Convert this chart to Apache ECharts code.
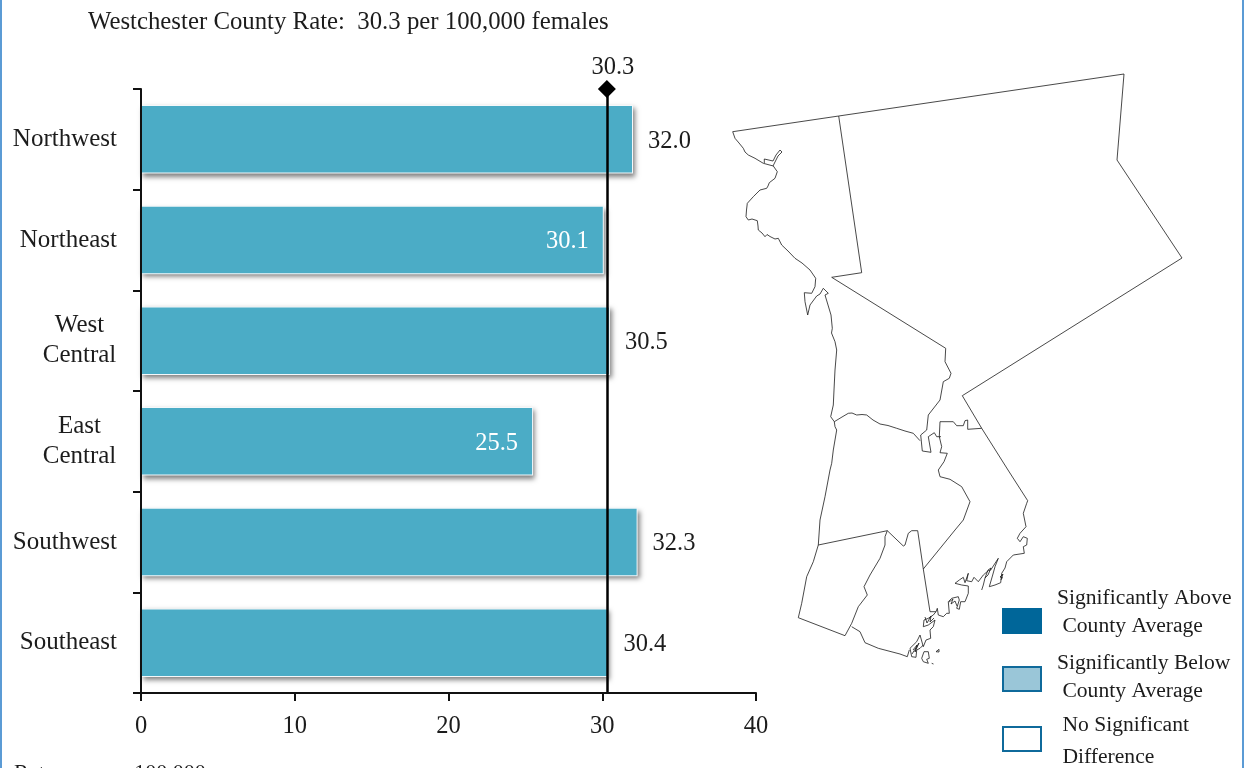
<!DOCTYPE html>
<html>
<head>
<meta charset="utf-8">
<style>html,body{margin:0;padding:0;background:#fff}#c{width:1244px;height:768px}</style>
<script src="https://cdn.jsdelivr.net/npm/echarts@6/dist/echarts.min.js"></script>
</head>
<body>
<div id="c"></div>
<script>
const regions = ['Northwest', 'Northeast', 'West\nCentral', 'East\nCentral', 'Southwest', 'Southeast'];
const rates = [32.0, 30.1, 30.5, 25.5, 32.3, 30.4];
const labelInside = [false, true, false, true, false, false];
const countyRate = 30.3;
const xTicks = [0, 10, 20, 30, 40];
const titleText = 'Westchester County Rate:  30.3 per 100,000 females';
const footText = 'Rates are per 100,000';
const legendLabels = [['Significantly Above', ' County Average'], ['Significantly Below', ' County Average'], [' No Significant', ' Difference']];
const legendFills = ['#006699', '#9AC6D8', '#ffffff'];

// map outlines
const lineNorthTop = [[732.7,131.7],[838.7,116],[1124,74],[1117,160],[1182,258],[962.3,395.7],[981.7,428.3],[1008,470],[1027.7,500.7]];
const lineNwEast = [[838.7,116],[861.7,272.7],[831.7,277.3],[945.7,348.3]];
const lineHudsonNorth = [[732.7,131.7],[735,138.3],[739,143],[743.3,148.3],[745,152],[748.3,155],[755,158.3],[763.3,163.3],[773.3,166],[777.3,171.7],[775,178.3],[769.3,182.7],[768,186],[766.7,188.3],[760,190],[753.3,196.7],[747.3,203.3],[746.5,210],[746,216.7],[748.3,220],[752,219],[757.3,220.7],[758,226],[758.3,230],[762,233],[765,236.7],[767,234.5],[770,236.5],[773,238],[775,239],[778.3,238.3],[781.7,245],[788,251],[795,258.3],[802,263],[810,270],[815.7,278.3],[815,286.7],[811.7,293.3],[804.3,292.7],[805,301.7],[807.7,315],[810,305],[816.7,296],[820,294],[823.3,288.3],[828.3,293.3],[825,295],[828,305],[831,315],[832.3,328.3],[831.5,333],[835,341.7],[836.7,350],[835,370],[834,390],[833.3,405],[830.7,416.7],[834.3,421.7],[835,426.7],[836.7,430],[833.3,450],[831.7,463.3],[830,470],[825,496.7],[820,520],[818.3,545],[813.3,561.7],[806.7,576.7],[801.7,603.3],[798.3,617.7],[845,635.7]];
const lineInlet = [[764.3,163],[764.3,159],[773,161],[776,155],[780,150],[782,152],[778,156],[775,162],[773,166]];
const lineWestCentralSouth = [[834.3,421.7],[842,417],[848.3,413.3],[852,413],[856.7,415],[862,414.5],[866.7,415],[873,420],[880,424],[888,425.5],[896.7,428.3],[905,431],[913.3,433.3],[920,440.7]];
const lineWestCentralEast = [[945.7,348.3],[945,361.7],[951,373.3],[949.3,378.3],[943.3,381.7],[940,400],[928.3,415],[926.7,430],[920.7,435],[922.3,451],[931,452.3],[928.3,436.7],[934.3,432.7],[936.7,436.7],[941,436.7]];
const lineEastTop = [[981.7,428.3],[967.7,429.3],[967.7,420],[965,420.7],[963.3,425.7],[956.7,425.7],[953.3,421.7],[940,421.7],[939.3,436.7],[941.7,446.7],[940,452.7],[947.3,453.3],[944,461.7],[938.3,470],[940,476.7],[950,479.3],[961.7,486.7],[970,501.7],[963.3,520],[955,530],[923.3,569]];
const lineSouthTop = [[818.3,545],[887.3,530.7],[903.3,546],[905,545],[908.3,533.3],[911.7,530.7],[917.7,530.7],[923.3,569],[930,611.7],[936,611.7]];
const lineSouthDivide = [[887.3,530.7],[885,536.7],[885,545],[880,558.3],[870,575],[864,586.7],[867.3,595],[858.3,606.7],[851.7,623.3],[845,635.7]];
const lineSouthBottom = [[851.7,626.7],[860,631.7],[865,642.7],[878.3,648.3],[900,654],[907.3,656.7],[909.3,650]];
const lineSoundCoast = [[936,611.7],[937.3,608.3],[938.3,615],[943.3,616.7],[946.7,613.3],[949.3,613.3],[948.3,601.7],[951.7,598.3],[958.3,596.7],[959.3,600],[956.7,608.3],[959.3,609.3],[960.7,601.7],[965,601.7],[968.3,593.3],[968.3,586],[961.7,585],[955,583.3],[959.3,580],[963.3,577.3],[965,582.7],[968.3,573.3],[966.7,580.7],[971.7,581.7],[974,577.3],[978.3,581.7],[983.3,575],[988.3,570.7],[990.7,570],[998.3,558.3],[995,566.7],[992.7,575],[989.3,586.7],[995,585],[1000.7,582.7],[1001.7,573.3],[1005,568],[1006.7,561.7],[1013.3,555],[1024.3,553.3],[1023.3,546.7],[1026.7,545],[1027.3,538.3],[1023.3,536.7],[1020,541.7],[1017.3,538.3],[1020,533.3],[1026,526.7],[1023.3,513.3],[1026.7,503.3],[1027.7,500.7]];
const lineCoastCluster = [[936,611.7],[933.3,615],[928.3,618.3],[924,620],[923.3,626.7],[928.3,625],[935,620],[933.3,626.7],[930,630],[930.7,638.3],[926,640],[923.3,646.7],[920,635],[916.7,641.7],[910,648.3],[911.7,656.7],[916,657.3],[916.7,650],[920,648.3],[923.3,645]];
const lineClusterBits = [[925,617],[927,623],[931,616],[930,622],[934,618]];
const lineClusterBits2 = [[913,650],[917,645],[915,652],[919,643],[912,654]];
const lineBayBits = [[985,578],[988,570],[991,568],[988,575],[985,578],[983.3,585],[981.7,590]];
const lineBayBits2 = [[1001,580],[1003,574],[1000,577],[1003,578]];
const lineBayBits3 = [[949,602],[953,599],[951,604],[955,601],[957,606]];
const islandOne = [[921.7,658.3],[924,651.7],[928.3,651.7],[929.3,658.3],[926.7,659.3],[928.3,663.3],[923.3,661.7],[921.7,658.3]];
const islandTwo = [[936,651.7],[939,649.3],[939,652],[936,651.7]];
const islandThree = [[931.7,663.3],[933.5,664]];

const mapParts = {
  Northeast: [lineNorthTop, lineNwEast],
  Northwest: [lineHudsonNorth, lineInlet],
  WestCentral: [lineWestCentralSouth, lineWestCentralEast],
  EastCentral: [lineEastTop],
  Southwest: [lineSouthTop, lineSouthDivide],
  Southeast: [lineSouthBottom, lineSoundCoast, lineCoastCluster, lineClusterBits, lineClusterBits2, lineBayBits, lineBayBits2, lineBayBits3, islandOne, islandTwo, islandThree]
};
const geoJson = {
  type: 'FeatureCollection',
  features: Object.keys(mapParts).map(name => ({
    type: 'Feature',
    properties: { name },
    geometry: { type: 'MultiLineString', coordinates: mapParts[name] }
  }))
};
const allPts = Object.values(mapParts).flat(2);
const bx = [Math.min(...allPts.map(p => p[0])), Math.max(...allPts.map(p => p[0]))];
const by = [Math.min(...allPts.map(p => p[1])), Math.max(...allPts.map(p => p[1]))];
echarts.registerMap('westchester', geoJson);

const FONT = '"Liberation Serif", serif';
const INK = '#1c1c1c';
const NUM = 24.5;
const CAT = 25;

const chart = echarts.init(document.getElementById('c'), null, { renderer: 'canvas' });

const legendGraphics = [];
const swatchY = [609, 667, 727];
const textY = [[598, 626], [663, 691], [725, 757]];
legendFills.forEach((fill, i) => {
  legendGraphics.push({
    type: 'rect', shape: { x: 1003, y: swatchY[i], width: 38, height: 24 },
    style: { fill, stroke: i === 0 ? '#006699' : '#0F6A9B', lineWidth: 2 }, silent: true
  });
  legendLabels[i].forEach((t, j) => {
    legendGraphics.push({
      type: 'text', x: 1057, y: textY[i][j],
      style: { text: t, font: '21.6px ' + FONT, fill: INK, verticalAlign: 'middle' }, silent: true
    });
  });
});

chart.setOption({
  animation: false,
  backgroundColor: '#fff',
  textStyle: { fontFamily: FONT, color: INK },
  title: [
    { text: titleText, left: 88, top: 10, padding: 0, textStyle: { fontFamily: FONT, fontSize: 24.8, fontWeight: 'normal', color: INK } },
    { text: footText, left: 14, top: 762, padding: 0, textStyle: { fontFamily: FONT, fontSize: 22, fontWeight: 'normal', color: INK } }
  ],
  grid: { left: 141, right: 488, top: 89, bottom: 75, containLabel: false },
  xAxis: {
    type: 'value', min: 0, max: 40, interval: 10, z: 6,
    splitLine: { show: false },
    axisLine: { show: true, onZero: false, lineStyle: { color: '#111', width: 2 } },
    axisTick: { show: true, length: 8, lineStyle: { color: '#111', width: 2 } },
    axisLabel: { margin: 21, fontFamily: FONT, fontSize: NUM, color: INK, customValues: xTicks }
  },
  yAxis: {
    type: 'category', inverse: true, data: regions, z: 6,
    axisLine: { show: true, lineStyle: { color: '#111', width: 2 } },
    axisTick: { show: true, length: 8, alignWithLabel: false, lineStyle: { color: '#111', width: 2 } },
    axisLabel: {
      margin: 24, fontFamily: FONT, fontSize: CAT, color: INK, lineHeight: 30,
      formatter: v => v.includes('\n') ? v.split('\n').map(s => '{c|' + s + '}').join('\n') : v,
      rich: { c: { width: 75, align: 'center', fontFamily: FONT, fontSize: CAT, lineHeight: 30, color: INK } }
    }
  },
  geo: {
    map: 'westchester',
    left: bx[0], top: by[0], width: bx[1] - bx[0], height: by[1] - by[0],
    aspectScale: 1, roam: false, silent: true,
    projection: { project: p => p, unproject: p => p },
    itemStyle: { areaColor: 'transparent', color: 'transparent', borderColor: '#1a1a1a', borderWidth: 0.8 },
    emphasis: { disabled: true },
    select: { disabled: true },
    label: { show: false }
  },
  series: [{
    // back layer: pale edge and drop shadow
    type: 'bar',
    data: rates,
    barCategoryGap: '32%',
    barGap: '-100%',
    silent: true,
    itemStyle: {
      color: '#F4F8FA',
      shadowColor: 'rgba(0,0,0,0.5)', shadowBlur: 5, shadowOffsetX: 2, shadowOffsetY: 3
    }
  }, {
    type: 'bar',
    data: rates.map((v, i) => ({
      value: v,
      label: labelInside[i]
        ? { position: 'insideRight', distance: 15, color: '#fff' }
        : { position: 'right', distance: 15, color: INK }
    })),
    barCategoryGap: '32%',
    barGap: '-100%',
    silent: true,
    itemStyle: { color: '#4BACC6', borderColor: 'transparent', borderWidth: 2 },
    label: { show: true, fontFamily: FONT, fontSize: NUM, offset: [0, 2], formatter: p => p.value.toFixed(1) },
    markLine: {
      silent: true, animation: false,
      symbol: ['diamond', 'none'], symbolSize: 18,
      lineStyle: { color: '#000', width: 2.5, type: 'solid' },
      label: { show: true, position: 'start', formatter: String(countyRate), fontFamily: FONT, fontSize: NUM, color: INK, distance: 9, offset: [6, 0] },
      data: [{ xAxis: countyRate }]
    }
  }],
  graphic: [
    { type: 'rect', shape: { x: 0, y: 0, width: 2, height: 768 }, style: { fill: '#5B9BD5' }, silent: true },
    { type: 'rect', shape: { x: 1242, y: 0, width: 2, height: 768 }, style: { fill: '#5B9BD5' }, silent: true },
    ...legendGraphics
  ]
});
</script>
</body>
</html>
